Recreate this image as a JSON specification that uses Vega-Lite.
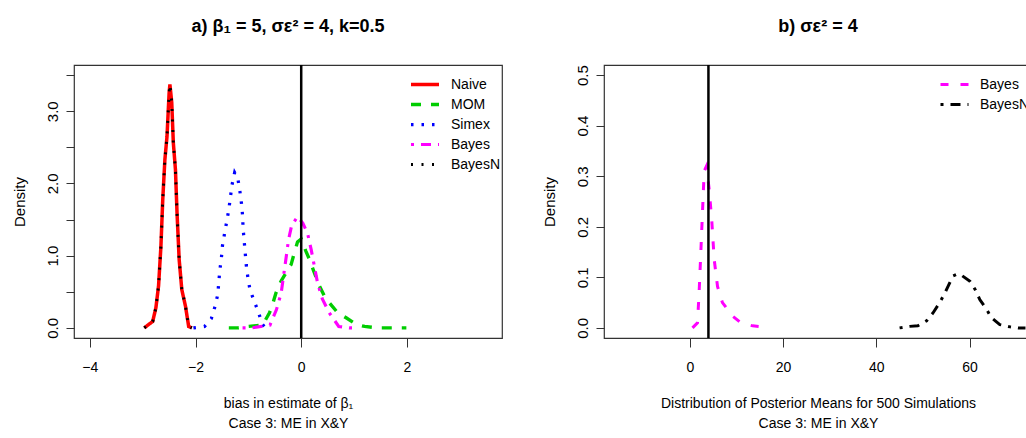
{
  "$schema": "https://vega.github.io/schema/vega-lite/v6.json",
  "padding": {"left": 11, "top": 17, "right": 0, "bottom": 0},
  "background": "white",
  "bounds": "flush",
  "spacing": 102,
  "config": {
    "font": "Liberation Sans",
    "view": {"stroke": "#333", "strokeWidth": 1.2},
    "title": {"font": "Liberation Sans", "fontSize": 18, "fontWeight": "bold", "offset": 28, "anchor": "middle", "color": "#000"},
    "axis": {"labelFont": "Liberation Sans", "titleFont": "Liberation Sans", "labelColor": "#000", "titleColor": "#000", "tickColor": "#333", "domain": false, "grid": false, "titleFontWeight": "normal"},
    "axisX": {"tickSize": 9, "labelFontSize": 14, "titleFontSize": 14, "labelPadding": 13, "titlePadding": 22, "titleLineHeight": 20},
    "axisY": {"tickSize": 8, "labelFontSize": 15, "titleFontSize": 15, "labelAngle": 270, "labelPadding": 6, "titlePadding": 18},
    "legend": {"orient": "none", "symbolType": "stroke", "symbolSize": 784, "symbolStrokeWidth": 3, "labelFontSize": 14, "labelFont": "Liberation Sans", "labelColor": "#000", "labelOffset": 10, "clipHeight": 15, "rowPadding": 5, "padding": 0, "legendX": 335, "legendY": 12}
  },
  "datasets": {
    "left": [
      {"series": "Naive", "x": -2.97, "y": 0}, {"series": "Naive", "x": -2.81, "y": 0.09}, {"series": "Naive", "x": -2.75, "y": 0.28}, {"series": "Naive", "x": -2.70, "y": 0.58}, {"series": "Naive", "x": -2.655, "y": 1.13}, {"series": "Naive", "x": -2.62, "y": 1.78}, {"series": "Naive", "x": -2.58, "y": 2.33}, {"series": "Naive", "x": -2.54, "y": 2.65}, {"series": "Naive", "x": -2.50, "y": 3.25}, {"series": "Naive", "x": -2.485, "y": 3.37}, {"series": "Naive", "x": -2.45, "y": 3.12}, {"series": "Naive", "x": -2.42, "y": 2.56}, {"series": "Naive", "x": -2.38, "y": 2.19}, {"series": "Naive", "x": -2.35, "y": 1.59}, {"series": "Naive", "x": -2.31, "y": 0.95}, {"series": "Naive", "x": -2.26, "y": 0.53}, {"series": "Naive", "x": -2.19, "y": 0.30}, {"series": "Naive", "x": -2.13, "y": 0.02}, {"series": "Naive", "x": -2.07, "y": 0},
      {"series": "MOM", "x": -1.37, "y": 0}, {"series": "MOM", "x": -1.2, "y": 0.0}, {"series": "MOM", "x": -1.0, "y": 0.02}, {"series": "MOM", "x": -0.73, "y": 0.04}, {"series": "MOM", "x": -0.60, "y": 0.21}, {"series": "MOM", "x": -0.56, "y": 0.28}, {"series": "MOM", "x": -0.48, "y": 0.48}, {"series": "MOM", "x": -0.38, "y": 0.65}, {"series": "MOM", "x": -0.29, "y": 0.76}, {"series": "MOM", "x": -0.19, "y": 0.88}, {"series": "MOM", "x": -0.13, "y": 1.04}, {"series": "MOM", "x": -0.07, "y": 1.19}, {"series": "MOM", "x": 0.0, "y": 1.23}, {"series": "MOM", "x": 0.09, "y": 1.06}, {"series": "MOM", "x": 0.155, "y": 0.95}, {"series": "MOM", "x": 0.25, "y": 0.76}, {"series": "MOM", "x": 0.345, "y": 0.58}, {"series": "MOM", "x": 0.44, "y": 0.44}, {"series": "MOM", "x": 0.53, "y": 0.35}, {"series": "MOM", "x": 0.69, "y": 0.21}, {"series": "MOM", "x": 0.85, "y": 0.14}, {"series": "MOM", "x": 1.04, "y": 0.05}, {"series": "MOM", "x": 1.20, "y": 0.02}, {"series": "MOM", "x": 1.44, "y": 0.0}, {"series": "MOM", "x": 1.99, "y": 0},
      {"series": "Simex", "x": -2.04, "y": 0}, {"series": "Simex", "x": -1.83, "y": 0.02}, {"series": "Simex", "x": -1.70, "y": 0.13}, {"series": "Simex", "x": -1.63, "y": 0.30}, {"series": "Simex", "x": -1.58, "y": 0.46}, {"series": "Simex", "x": -1.54, "y": 0.80}, {"series": "Simex", "x": -1.51, "y": 0.97}, {"series": "Simex", "x": -1.49, "y": 1.14}, {"series": "Simex", "x": -1.45, "y": 1.31}, {"series": "Simex", "x": -1.41, "y": 1.47}, {"series": "Simex", "x": -1.37, "y": 1.64}, {"series": "Simex", "x": -1.34, "y": 1.81}, {"series": "Simex", "x": -1.31, "y": 1.98}, {"series": "Simex", "x": -1.26, "y": 2.15}, {"series": "Simex", "x": -1.20, "y": 2.07}, {"series": "Simex", "x": -1.16, "y": 1.89}, {"series": "Simex", "x": -1.13, "y": 1.72}, {"series": "Simex", "x": -1.11, "y": 1.56}, {"series": "Simex", "x": -1.10, "y": 1.38}, {"series": "Simex", "x": -1.08, "y": 1.21}, {"series": "Simex", "x": -1.06, "y": 1.04}, {"series": "Simex", "x": -1.04, "y": 0.87}, {"series": "Simex", "x": -1.01, "y": 0.70}, {"series": "Simex", "x": -0.97, "y": 0.53}, {"series": "Simex", "x": -0.89, "y": 0.37}, {"series": "Simex", "x": -0.81, "y": 0.22}, {"series": "Simex", "x": -0.74, "y": 0.055}, {"series": "Simex", "x": -0.68, "y": 0},
      {"series": "Bayes", "x": -1.11, "y": 0}, {"series": "Bayes", "x": -0.95, "y": 0.0}, {"series": "Bayes", "x": -0.85, "y": 0.01}, {"series": "Bayes", "x": -0.59, "y": 0.04}, {"series": "Bayes", "x": -0.47, "y": 0.25}, {"series": "Bayes", "x": -0.38, "y": 0.48}, {"series": "Bayes", "x": -0.29, "y": 0.95}, {"series": "Bayes", "x": -0.24, "y": 1.22}, {"series": "Bayes", "x": -0.18, "y": 1.42}, {"series": "Bayes", "x": -0.07, "y": 1.54}, {"series": "Bayes", "x": 0.03, "y": 1.45}, {"series": "Bayes", "x": 0.12, "y": 1.31}, {"series": "Bayes", "x": 0.19, "y": 1.08}, {"series": "Bayes", "x": 0.25, "y": 0.85}, {"series": "Bayes", "x": 0.31, "y": 0.62}, {"series": "Bayes", "x": 0.40, "y": 0.40}, {"series": "Bayes", "x": 0.53, "y": 0.21}, {"series": "Bayes", "x": 0.71, "y": 0.02}, {"series": "Bayes", "x": 0.91, "y": 0}, {"series": "Bayes", "x": 1.0, "y": 0},
      {"series": "BayesN", "x": -2.97, "y": 0}, {"series": "BayesN", "x": -2.81, "y": 0.09}, {"series": "BayesN", "x": -2.75, "y": 0.28}, {"series": "BayesN", "x": -2.70, "y": 0.58}, {"series": "BayesN", "x": -2.655, "y": 1.13}, {"series": "BayesN", "x": -2.62, "y": 1.78}, {"series": "BayesN", "x": -2.58, "y": 2.33}, {"series": "BayesN", "x": -2.54, "y": 2.65}, {"series": "BayesN", "x": -2.50, "y": 3.25}, {"series": "BayesN", "x": -2.485, "y": 3.37}, {"series": "BayesN", "x": -2.45, "y": 3.12}, {"series": "BayesN", "x": -2.42, "y": 2.56}, {"series": "BayesN", "x": -2.38, "y": 2.19}, {"series": "BayesN", "x": -2.35, "y": 1.59}, {"series": "BayesN", "x": -2.31, "y": 0.95}, {"series": "BayesN", "x": -2.26, "y": 0.53}, {"series": "BayesN", "x": -2.19, "y": 0.30}, {"series": "BayesN", "x": -2.13, "y": 0.02}, {"series": "BayesN", "x": -2.07, "y": 0}
    ],
    "right": [
      {"series": "Bayes", "x": 0.58, "y": 0}, {"series": "Bayes", "x": 1.65, "y": 0.01}, {"series": "Bayes", "x": 2.0, "y": 0.07}, {"series": "Bayes", "x": 2.37, "y": 0.15}, {"series": "Bayes", "x": 2.73, "y": 0.23}, {"series": "Bayes", "x": 3.09, "y": 0.31}, {"series": "Bayes", "x": 3.59, "y": 0.32}, {"series": "Bayes", "x": 4.2, "y": 0.27}, {"series": "Bayes", "x": 4.73, "y": 0.21}, {"series": "Bayes", "x": 5.24, "y": 0.135}, {"series": "Bayes", "x": 5.95, "y": 0.082}, {"series": "Bayes", "x": 7.0, "y": 0.05}, {"series": "Bayes", "x": 9.2, "y": 0.023}, {"series": "Bayes", "x": 10.96, "y": 0.01}, {"series": "Bayes", "x": 13.5, "y": 0.004}, {"series": "Bayes", "x": 15.6, "y": 0.002},
      {"series": "BayesN", "x": 45.0, "y": 0}, {"series": "BayesN", "x": 47.2, "y": 0.003}, {"series": "BayesN", "x": 48.9, "y": 0.004}, {"series": "BayesN", "x": 50.8, "y": 0.014}, {"series": "BayesN", "x": 52.2, "y": 0.03}, {"series": "BayesN", "x": 53.6, "y": 0.05}, {"series": "BayesN", "x": 54.6, "y": 0.067}, {"series": "BayesN", "x": 55.8, "y": 0.09}, {"series": "BayesN", "x": 56.5, "y": 0.103}, {"series": "BayesN", "x": 57.5, "y": 0.107}, {"series": "BayesN", "x": 58.3, "y": 0.104}, {"series": "BayesN", "x": 60.1, "y": 0.092}, {"series": "BayesN", "x": 61.2, "y": 0.076}, {"series": "BayesN", "x": 62.2, "y": 0.056}, {"series": "BayesN", "x": 63.7, "y": 0.036}, {"series": "BayesN", "x": 64.7, "y": 0.02}, {"series": "BayesN", "x": 66.5, "y": 0.0065}, {"series": "BayesN", "x": 68.7, "y": 0.002}, {"series": "BayesN", "x": 70.4, "y": 0.0}, {"series": "BayesN", "x": 72.0, "y": 0}
    ]
  },
  "resolve": {"scale": {"color": "independent", "strokeDash": "independent", "strokeWidth": "independent"}, "legend": {"color": "independent", "strokeDash": "independent"}},
  "hconcat": [
    {
      "width": 428,
      "height": 273,
      "title": "a) β₁ = 5, σε² = 4, k=0.5",
      "layer": [
        {
          "data": {"name": "left"},
          "mark": {"type": "line", "clip": true},
          "encoding": {
            "x": {"field": "x", "type": "quantitative", "scale": {"domain": [-4.3, 3.8], "nice": false, "zero": false}, "axis": {"values": [-4, -2, 0, 2], "format": "d", "title": ["bias in estimate of β₁", "Case 3: ME in X&Y"]}},
            "y": {"field": "y", "type": "quantitative", "scale": {"domain": [-0.14, 3.64], "nice": false, "zero": false}, "axis": {"values": [0, 0.5, 1, 1.5, 2, 2.5, 3, 3.5], "labelExpr": "datum.value % 1 == 0 ? format(datum.value, '.1f') : ''", "title": "Density"}},
            "color": {"field": "series", "type": "nominal", "scale": {"domain": ["Naive", "MOM", "Simex", "Bayes", "BayesN"], "range": ["#FF0000", "#00CD00", "#0000FF", "#FF00FF", "#000000"]}, "legend": {"title": null}},
            "strokeDash": {"field": "series", "type": "nominal", "scale": {"domain": ["Naive", "MOM", "Simex", "Bayes", "BayesN"], "range": [[1, 0], [10, 10], [2.5, 8], [3, 7, 10, 7], [2, 8.5]]}, "legend": {"title": null}},
            "strokeWidth": {"field": "series", "type": "nominal", "scale": {"domain": ["Naive", "MOM", "Simex", "Bayes", "BayesN"], "range": [3.5, 3, 2.5, 3, 2]}, "legend": null},
            "order": {"field": "x", "type": "quantitative"}
          }
        },
        {
          "data": {"values": [{"x": 0}]},
          "mark": {"type": "rule", "color": "#000", "strokeWidth": 2.5},
          "encoding": {"x": {"field": "x", "type": "quantitative"}}
        }
      ]
    },
    {
      "width": 428,
      "height": 273,
      "title": "b) σε² = 4",
      "layer": [
        {
          "data": {"name": "right"},
          "mark": {"type": "line", "clip": true},
          "encoding": {
            "x": {"field": "x", "type": "quantitative", "scale": {"domain": [-18.4, 73.4], "nice": false, "zero": false}, "axis": {"values": [0, 20, 40, 60], "format": "d", "title": ["Distribution of Posterior Means for 500 Simulations", "Case 3: ME in X&Y"]}},
            "y": {"field": "y", "type": "quantitative", "scale": {"domain": [-0.02, 0.52], "nice": false, "zero": false}, "axis": {"values": [0, 0.1, 0.2, 0.3, 0.4, 0.5], "format": ".1f", "title": "Density"}},
            "color": {"field": "series", "type": "nominal", "scale": {"domain": ["Bayes", "BayesN"], "range": ["#FF00FF", "#000000"]}, "legend": {"title": null}},
            "strokeDash": {"field": "series", "type": "nominal", "scale": {"domain": ["Bayes", "BayesN"], "range": [[8, 12], [3, 7, 10, 7]]}, "legend": {"title": null}},
            "strokeWidth": {"field": "series", "type": "nominal", "scale": {"domain": ["Bayes", "BayesN"], "range": [3, 3]}, "legend": null},
            "order": {"field": "x", "type": "quantitative"}
          }
        },
        {
          "data": {"values": [{"x": 4}]},
          "mark": {"type": "rule", "color": "#000", "strokeWidth": 2.5},
          "encoding": {"x": {"field": "x", "type": "quantitative"}}
        }
      ]
    }
  ]
}
